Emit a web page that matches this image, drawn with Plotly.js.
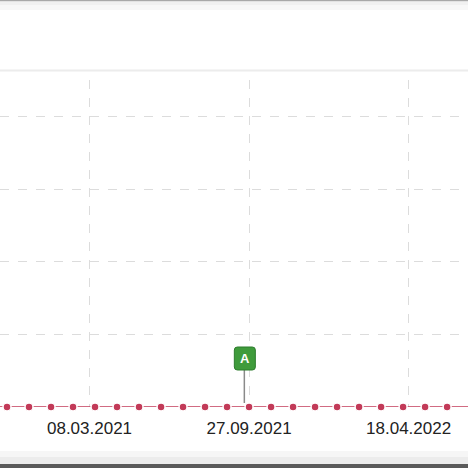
<!DOCTYPE html>
<html>
<head>
<meta charset="utf-8">
<script src="https://cdn.plot.ly/plotly-3.0.1.min.js"></script>
<style>html,body{margin:0;padding:0;background:#fff;}#chart{width:468px;height:468px;}</style>
</head>
<body>
<div id="chart"></div>
<script>
// Data (every 4 weeks, all values at zero)
const dates = ["2020-10-26","2020-11-23","2020-12-21","2021-01-18","2021-02-15","2021-03-15",
  "2021-04-12","2021-05-10","2021-06-07","2021-07-05","2021-08-02","2021-08-30","2021-09-27",
  "2021-10-25","2021-11-22","2021-12-20","2022-01-17","2022-02-14","2022-03-14","2022-04-11",
  "2022-05-09","2022-06-06","2022-07-04","2022-08-01"];
const values = [0,0,0,0,0,0,0,0,0,0,0,0,0,0,0,0,0,0,0,0,0,0,0,0];
const tickDates = ["2021-03-08","2021-09-27","2022-04-18"];
const tickLabels = ["08.03.2021","27.09.2021","18.04.2022"];
const flagDate = "2021-09-21";
const flagValue = 0;
const flagText = "A";

const W = 468, H = 468, T = 80, B = 61;
const plotH = H - T - B;
const py = Y => (H - B - Y) / plotH;

const shapes = [
  {type:'rect', xref:'paper', yref:'paper', x0:-0.01, x1:1.01, y0:py(1.5), y1:py(-1), fillcolor:'#a9a9a9', line:{width:0}},
  {type:'rect', xref:'paper', yref:'paper', x0:-0.01, x1:1.01, y0:py(5), y1:py(1.5), fillcolor:'#f1f1f1', line:{width:0}},
  {type:'rect', xref:'paper', yref:'paper', x0:-0.01, x1:1.01, y0:py(10), y1:py(5), fillcolor:'#f8f8f8', line:{width:0}},
  {type:'rect', xref:'paper', yref:'paper', x0:-0.01, x1:1.01, y0:py(71.5), y1:py(69.5), fillcolor:'#ececec', line:{width:0}},
  {type:'rect', xref:'paper', yref:'paper', x0:-0.01, x1:1.01, y0:py(457), y1:py(451), fillcolor:'#f6f6f6', line:{width:0}},
  {type:'rect', xref:'paper', yref:'paper', x0:-0.01, x1:1.01, y0:py(464), y1:py(457), fillcolor:'#ececec', line:{width:0}},
  {type:'rect', xref:'paper', yref:'paper', x0:-0.01, x1:1.01, y0:py(469), y1:py(464), fillcolor:'#5a5a5a', line:{width:0}},
  // flag stem
  {type:'line', xref:'x', yref:'y', xsizemode:'pixel', ysizemode:'pixel', xanchor:flagDate, yanchor:flagValue,
   x0:0, x1:0, y0:4, y1:37, line:{color:'#8a8a8a', width:1.5}, layer:'above'},
  // flag box (rounded)
  {type:'path', xref:'x', yref:'y', xsizemode:'pixel', ysizemode:'pixel', xanchor:flagDate, yanchor:flagValue,
   path:'M -7,37 H 8 Q 11,37 11,40 V 57 Q 11,60 8,60 H -7 Q -10,60 -10,57 V 40 Q -10,37 -7,37 Z',
   fillcolor:'#3f9b3b', line:{color:'#2d7c2d', width:1}, layer:'above'}
];

const trace = {
  x: dates, y: values, type:'scatter', mode:'lines+markers',
  line:{color:'#c23a58', width:1.5},
  marker:{color:'#c23a58', size:8, line:{color:'#ffffff', width:1.5}},
  cliponaxis:false, hoverinfo:'skip', showlegend:false
};

const layout = {
  width: W, height: H,
  margin:{l:0, r:0, t:T, b:B, pad:0},
  paper_bgcolor:'#ffffff', plot_bgcolor:'#ffffff',
  showlegend:false,
  xaxis:{
    type:'date', range:["2020-11-14 02:00","2022-07-02 14:24"],
    tickvals: tickDates, ticktext: tickLabels,
    showgrid:true, gridcolor:'#dcdcdc', griddash:'dash', gridwidth:1,
    zeroline:false, showline:false,
    ticks:'outside', ticklen:6, tickcolor:'rgba(0,0,0,0)',
    tickfont:{family:'Liberation Sans, Arial, sans-serif', size:17, color:'#222222'},
    fixedrange:true
  },
  yaxis:{
    range:[0, 4.51], dtick:1, tick0:0,
    showgrid:true, gridcolor:'#dcdcdc', griddash:'dash', gridwidth:1,
    zeroline:false, showline:false, showticklabels:false, ticks:'',
    fixedrange:true
  },
  shapes: shapes,
  annotations:[{
    x: flagDate, y: flagValue, xref:'x', yref:'y',
    text:'<b>'+flagText+'</b>', showarrow:false, xshift:0.5, yshift:48.5,
    font:{family:'Liberation Sans, Arial, sans-serif', size:13, color:'#ffffff'}
  }]
};

Plotly.newPlot('chart', [trace], layout, {displayModeBar:false, staticPlot:true});
</script>
</body>
</html>
